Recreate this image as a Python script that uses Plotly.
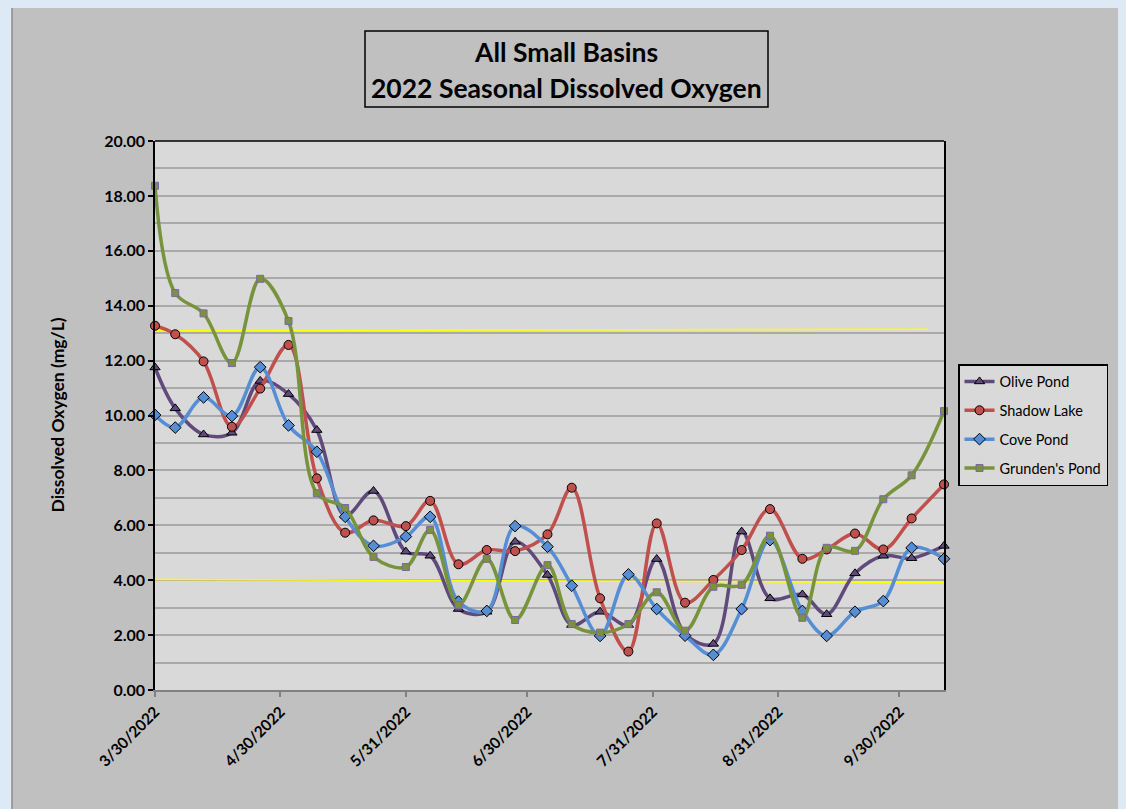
import plotly.graph_objects as go

dates = ["2022-03-30", "2022-04-04", "2022-04-11", "2022-04-18", "2022-04-25",
         "2022-05-02", "2022-05-09", "2022-05-16", "2022-05-23", "2022-05-31",
         "2022-06-06", "2022-06-13", "2022-06-20", "2022-06-27", "2022-07-05",
         "2022-07-11", "2022-07-18", "2022-07-25", "2022-08-01", "2022-08-08",
         "2022-08-15", "2022-08-22", "2022-08-29", "2022-09-06", "2022-09-12",
         "2022-09-19", "2022-09-26", "2022-10-03", "2022-10-11"]

olive_pond = [11.75, 10.26, 9.31, 9.37, 11.26, 10.78, 9.47, 6.35, 7.25, 5.04,
              4.89, 2.95, 2.85, 5.40, 4.19, 2.37, 2.85, 2.37, 4.77, 2.05,
              1.68, 5.77, 3.34, 3.48, 2.76, 4.25, 4.89, 4.80, 5.25]
shadow_lake = [13.27, 12.96, 11.97, 9.59, 10.98, 12.57, 7.71, 5.73, 6.18, 5.97,
               6.89, 4.58, 5.10, 5.06, 5.67, 7.37, 3.34, 1.40, 6.07, 3.18,
               4.01, 5.10, 6.59, 4.78, 5.12, 5.70, 5.12, 6.25, 7.49]
cove_pond = [10.02, 9.56, 10.66, 9.98, 11.76, 9.64, 8.68, 6.31, 5.25, 5.59,
             6.31, 3.22, 2.88, 5.97, 5.22, 3.80, 1.97, 4.21, 2.95, 1.98,
             1.28, 2.95, 5.46, 2.88, 1.97, 2.85, 3.24, 5.18, 4.78]
grundens_pond = [18.37, 14.46, 13.72, 11.91, 14.98, 13.44, 7.17, 6.63, 4.85, 4.48,
                 5.83, 3.10, 4.78, 2.55, 4.55, 2.40, 2.09, 2.40, 3.56, 2.16,
                 3.76, 3.83, 5.62, 2.63, 5.18, 5.07, 6.95, 7.82, 10.16]

upper_ref_dates = ["2022-03-30", "2022-10-07"]
upper_ref_values = [13.09, 13.14]
lower_ref_dates = ["2022-03-30", "2022-10-11"]
lower_ref_values = [4.03, 3.92]

tick_dates = ["2022-03-30", "2022-04-30", "2022-05-31", "2022-06-30",
              "2022-07-31", "2022-08-31", "2022-09-30"]
tick_labels = ["3/30/2022", "4/30/2022", "5/31/2022", "6/30/2022",
               "7/31/2022", "8/31/2022", "9/30/2022"]

FONT = "Lato, 'Open Sans', sans-serif"
PAGE_BG = "#dde9f5"

fig = go.Figure()

for xs, ys in [(upper_ref_dates, upper_ref_values), (lower_ref_dates, lower_ref_values)]:
    fig.add_trace(go.Scatter(x=xs, y=ys, mode="lines", showlegend=False,
                             hoverinfo="skip", line=dict(color="#ffff00", width=1.5),
                             cliponaxis=False, legendgroup="ref"))

series = [
    ("Olive Pond", olive_pond, "#604a7b", "triangle-up", "#604a7b", "#000000", 9),
    ("Shadow Lake", shadow_lake, "#c0504d", "circle", "#c0504d", "#000000", 9),
    ("Cove Pond", cove_pond, "#558ed5", "diamond", "#558ed5", "#000000", 9),
    ("Grunden's Pond", grundens_pond, "#77933c", "square", "#77933c", "#8064a2", 7),
]
for i, (name, ys, col, sym, fill, edge, sz) in enumerate(series):
    fig.add_trace(go.Scatter(
        x=dates, y=ys, name=name, mode="lines+markers",
        line=dict(color=col, width=3.5, shape="spline", smoothing=1.0),
        marker=dict(symbol=sym, size=sz, color=fill, line=dict(color=edge, width=1)),
        cliponaxis=False, legendgroup=f"g{i}",
    ))

# screen pixel -> paper helpers (plot area on screen: x 155..944, y 141..690)
def px(x):
    return (x - 155) / 789.0

def py(y):
    return (690 - y) / 549.0

shapes = [
    dict(type="rect", xref="paper", yref="paper", x0=px(12), x1=px(1121), y0=py(815), y1=py(7),
         fillcolor="#c0c0c0", line=dict(color="#8c8c8c", width=1.5), layer="below"),
    dict(type="rect", xref="paper", yref="paper", x0=0, x1=1, y0=0, y1=1,
         fillcolor="#d9d9d9", line=dict(width=0), layer="below"),
    dict(type="rect", xref="paper", yref="paper", x0=px(365), x1=px(768), y0=py(107), y1=py(31),
         fillcolor="#c0c0c0", line=dict(color="#000000", width=1.5), layer="below"),
    dict(type="line", xref="paper", yref="paper", x0=0, x1=1, y0=1, y1=1,
         line=dict(color="#000000", width=1.5)),
]

annotations = [
    dict(text="<b>All Small Basins</b>", xref="paper", yref="paper", x=px(566), y=py(52),
         showarrow=False, font=dict(family=FONT, size=26.5, color="#000000"),
         xanchor="center", yanchor="middle"),
    dict(text="<b>2022 Seasonal Dissolved Oxygen</b>", xref="paper", yref="paper", x=px(566), y=py(88),
         showarrow=False, font=dict(family=FONT, size=26.5, color="#000000"),
         xanchor="center", yanchor="middle"),
    dict(text="<b>Dissolved Oxygen (mg/L)</b>", xref="paper", yref="paper", x=px(57), y=0.5,
         showarrow=False, textangle=-90, font=dict(family=FONT, size=17.5, color="#000000"),
         xanchor="center", yanchor="middle"),
]

# the page places the figure 8px from the window's top-left corner
fig.update_layout(
    width=1118, height=801,
    margin=dict(l=147, r=182, t=133, b=119, autoexpand=False),
    paper_bgcolor=PAGE_BG, plot_bgcolor="#d9d9d9",
    font=dict(family=FONT, color="#000000"),
    shapes=shapes, annotations=annotations,
    showlegend=True,
    legend=dict(x=px(958), y=py(364), xanchor="left", yanchor="top",
                bgcolor="#d9d9d9", bordercolor="#000000", borderwidth=1.5,
                font=dict(family=FONT, size=14.5, color="#000000"),
                tracegroupgap=7, traceorder="grouped"),
    hovermode=False,
)

fig.update_xaxes(
    type="date", range=["2022-03-30", "2022-10-11"],
    tickvals=tick_dates, ticktext=tick_labels, tickangle=-45,
    tickfont=dict(family=FONT, size=15.5, color="#000000", weight="bold"),
    showgrid=False, zeroline=False,
    showline=True, linecolor="#808080", linewidth=1.5,
    ticks="outside", ticklen=5, tickcolor="#808080", tickwidth=1.5,
    automargin=False,
)

fig.update_yaxes(
    range=[0, 20], dtick=2, tick0=0, tickformat=".2f",
    tickfont=dict(family=FONT, size=16, color="#000000", weight="bold"),
    showgrid=True, gridcolor="#a9a9a9", gridwidth=1.5,
    minor=dict(dtick=1, showgrid=True, gridcolor="#a9a9a9", gridwidth=1.5, ticks=""),
    zeroline=False,
    showline=True, linecolor="#000000", linewidth=1.5, mirror=True,
    ticks="outside", ticklen=5, tickcolor="#000000", tickwidth=1.5,
    automargin=False,
)

fig.write_html("out.html",
               post_script=f"document.body.style.background='{PAGE_BG}';")
